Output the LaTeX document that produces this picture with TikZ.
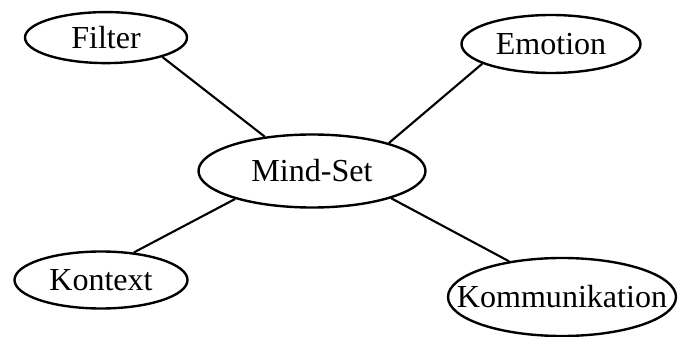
\documentclass[tikz,border=0pt]{standalone}
\usepackage{fontspec}
\setmainfont{Liberation Serif}
\usetikzlibrary{shapes.geometric}

\begin{document}
\begin{tikzpicture}[
	bubble/.style={draw,ellipse,line width=1.7pt,inner sep=0pt,
		label={[font=\fontsize{22.8}{27}\selectfont]center:#1}},
	link/.style={line width=1.5pt}]
	\useasboundingbox (0,0) rectangle (16.95,8.4);

	\node [bubble=Mind-Set,minimum width=5.675cm,minimum height=1.825cm] (mindset) at (7.8,4.125) {};
	\node [bubble=Filter,minimum width=4.05cm,minimum height=1.275cm] (filter) at (2.65,7.46) {};
	\node [bubble=Emotion,minimum width=4.475cm,minimum height=1.45cm] (emotion) at (13.775,7.3) {};
	\node [bubble=Kontext,minimum width=4.325cm,minimum height=1.425cm] (kontext) at (2.525,1.4) {};
	\node [bubble=Kommunikation,minimum width=5.7cm,minimum height=1.95cm] (komm) at (14.05,0.975) {};

	\draw[link] (filter.-19)--(mindset.144);
	\draw[link] (emotion.-164)--(mindset.20);
	\draw[link] (kontext.40)--(mindset.-160);
	\draw[link] (komm.146)--(mindset.-19);

\end{tikzpicture}
\end{document}
